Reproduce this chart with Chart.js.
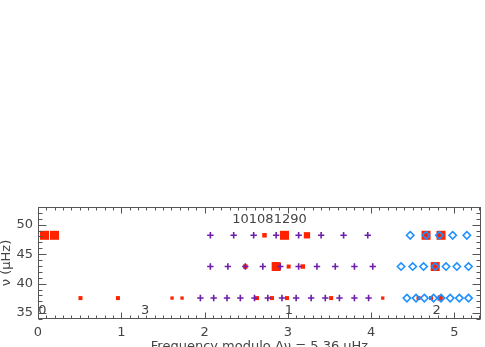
<!DOCTYPE html>
<html>
<head>
<meta charset="utf-8">
<script src="https://cdn.jsdelivr.net/npm/chart.js@4"></script>
<style>
  html, body { margin: 0; padding: 0; background: #fff; }
  #wrap { width: 485px; height: 347px; }
</style>
</head>
<body>
<div id="wrap"><canvas id="echelle" width="485" height="347"></canvas></div>
<script>
// echelle diagram of star 101081290
const starId = '101081290';
const xTitle = 'Frequency modulo \u0394\u03bd = 5.36 \u03bcHz';
const yTitle = '\u03bd (\u03bcHz)';

const xTicks = [0, 1, 2, 3, 4, 5];
const yTicks = [35, 40, 45, 50];

// frequency of each order row (muHz)
const rowNu = [48.2, 42.9, 37.55];

// l=1 modes (purple +), frequency modulo dnu
const l1Row1 = [2.07, 2.35, 2.59, 2.86, 3.13, 3.40, 3.67, 3.96];
const l1Row2 = [2.07, 2.28, 2.49, 2.70, 2.91, 3.13, 3.35, 3.57, 3.80, 4.02];
const l1Row3 = [1.95, 2.11, 2.27, 2.43, 2.60, 2.76, 2.93, 3.10, 3.28, 3.45, 3.62, 3.80, 3.97];

// l=2 modes (blue diamonds)
const l2Row1 = [4.47, 4.66, 4.82, 4.98, 5.15];
const l2Row2 = [4.36, 4.50, 4.63, 4.77, 4.90, 5.03, 5.17];
const l2Row3 = [4.43, 4.54, 4.64, 4.75, 4.84, 4.95, 5.06, 5.17];

// observed peaks (red squares) and their relative power
const pkRow1 = [0.078, 0.198, 2.72, 2.96, 3.23, 4.66, 4.84];
const pwRow1 = [10, 10, 1.5, 10, 4, 10, 10];
const pkRow2 = [2.49, 2.86, 3.01, 3.18, 4.77];
const pwRow2 = [1.5, 10, 1, 1.5, 10];
const pkRow3 = [0.51, 0.96, 1.61, 1.73, 2.63, 2.81, 2.99, 3.52, 4.14, 4.57, 4.72, 4.83];
const pwRow3 = [1, 1, 0.5, 0.5, 1, 1, 1, 1, 0.5, 1, 1, 2.5];

// degree labels inside the plot
const degText = ['0', '3', '1', '2'];
const degX = [0.054, 1.286, 3.013, 4.786];
const degY = 35.5;

function rows(list) {
  const pts = [];
  list.forEach((xs, i) => xs.forEach(x => pts.push({ x: x, y: rowNu[i] })));
  return pts;
}
const peakPower = [].concat(pwRow1, pwRow2, pwRow3);
function peakRadius(p) { return 1.2 + Math.sqrt(p) * 1.63; }

const textFont = '13px "DejaVu Sans", sans-serif';
const ink = '#444';

const decor = {
  id: 'decor',
  afterDatasetsDraw(chart) {
    const c = chart.ctx, a = chart.chartArea;
    const xs = chart.scales.x, ys = chart.scales.y;
    const L = Math.round(a.left) + 0.5, R = Math.round(a.right) - 0.5;
    const T = Math.round(a.top) + 0.5, B = Math.round(a.bottom) - 0.5;
    c.save();
    c.strokeStyle = '#555';
    c.lineWidth = 1;
    c.strokeRect(L, T, R - L, B - T);
    c.beginPath();
    // x ticks, bottom and top, minor every 0.1
    for (let i = 0; i <= 53; i++) {
      const v = i / 10;
      if (v > xs.max) break;
      const px = Math.round(xs.getPixelForValue(v)) + 0.5;
      const len = i % 10 === 0 ? 6 : 3;
      c.moveTo(px, B); c.lineTo(px, B - len);
      c.moveTo(px, T); c.lineTo(px, T + len);
    }
    // y ticks, left and right, minor every 1
    for (let v = 34; v <= 53; v++) {
      const py = Math.round(ys.getPixelForValue(v)) + 0.5;
      const len = v % 5 === 0 ? 8 : 4;
      c.moveTo(L, py); c.lineTo(L + len, py);
      c.moveTo(R, py); c.lineTo(R - len, py);
    }
    c.stroke();

    c.fillStyle = ink;
    c.font = textFont;
    c.textAlign = 'center';
    c.textBaseline = 'middle';
    degText.forEach((t, i) => {
      c.fillText(t, xs.getPixelForValue(degX[i]), ys.getPixelForValue(degY));
    });
    c.fillText(starId, xs.getPixelForValue(2.78), ys.getPixelForValue(50.85));

    // axis titles
    c.textBaseline = 'top';
    c.fillText(xTitle, (a.left + a.right) / 2, 340);
    c.translate(7, (a.top + a.bottom) / 2);
    c.rotate(-Math.PI / 2);
    c.textBaseline = 'middle';
    c.fillText(yTitle, 0, 0);
    c.restore();
  }
};

new Chart(document.getElementById('echelle'), {
  type: 'scatter',
  data: {
    datasets: [
      {
        label: 'l=2',
        data: rows([l2Row1, l2Row2, l2Row3]),
        pointStyle: 'rectRot',
        pointRadius: 3.7,
        pointBorderWidth: 1.6,
        pointBorderColor: 'rgb(30,144,255)',
        pointBackgroundColor: 'rgba(0,0,0,0)',
        order: 0
      },
      {
        label: 'l=1',
        data: rows([l1Row1, l1Row2, l1Row3]),
        pointStyle: 'cross',
        pointRadius: 3.2,
        pointBorderWidth: 1.6,
        pointBorderColor: 'rgb(110,30,170)',
        order: 1
      },
      {
        label: 'peaks',
        data: rows([pkRow1, pkRow2, pkRow3]),
        pointStyle: 'rect',
        pointRadius: ctx => peakRadius(peakPower[ctx.dataIndex] || 1),
        pointBorderWidth: 0,
        pointBackgroundColor: 'rgb(255,35,0)',
        order: 2
      }
    ]
  },
  options: {
    responsive: false,
    animation: false,
    layout: { autoPadding: false, padding: { top: 207, right: 4, left: 0, bottom: 0 } },
    plugins: { legend: { display: false }, tooltip: { enabled: false } },
    scales: {
      x: {
        type: 'linear', min: 0, max: 5.32,
        grid: { display: false, drawTicks: false },
        border: { display: false },
        afterBuildTicks: s => { s.ticks = xTicks.map(v => ({ value: v })); },
        afterFit: s => { s.height = 28; s.paddingLeft = 0; s.paddingRight = 0; },
        ticks: { font: { family: 'DejaVu Sans', size: 13 }, color: ink, padding: 6, maxRotation: 0 }
      },
      y: {
        type: 'linear', min: 34, max: 53,
        grid: { display: false, drawTicks: false },
        border: { display: false },
        afterBuildTicks: s => { s.ticks = yTicks.map(v => ({ value: v })); },
        afterFit: s => { s.width = 38; s.paddingTop = 0; s.paddingBottom = 0; },
        ticks: { font: { family: 'DejaVu Sans', size: 13 }, color: ink, padding: 5 }
      }
    }
  },
  plugins: [decor]
});
</script>
</body>
</html>
